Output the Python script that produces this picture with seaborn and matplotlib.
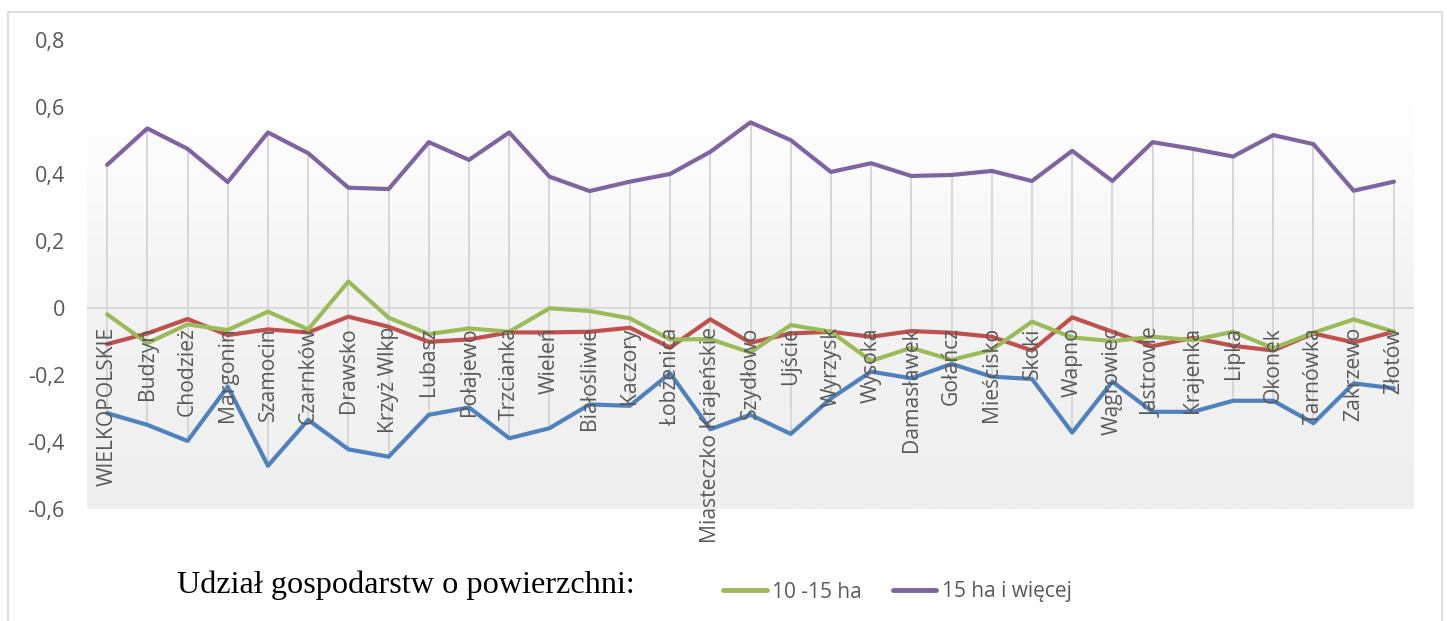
import numpy as np
import pandas as pd
import matplotlib
matplotlib.use("Agg")
import matplotlib.pyplot as plt
from matplotlib.colors import LinearSegmentedColormap
from matplotlib.lines import Line2D
from matplotlib.patches import Rectangle
import seaborn as sns

# --- data -------------------------------------------------------------------
gminy = [
    "WIELKOPOLSKIE", "Budzyń", "Chodzież", "Margonin", "Szamocin", "Czarnków",
    "Drawsko", "Krzyż Wlkp", "Lubasz", "Połajewo", "Trzcianka", "Wieleń",
    "Białośliwie", "Kaczory", "Łobżenica", "Miasteczko Krajeńskie", "Szydłowo",
    "Ujście", "Wyrzysk", "Wysoka", "Damasławek", "Gołańcz", "Mieścisko",
    "Skoki", "Wapno", "Wągrowiec", "Jastrowie", "Krajenka", "Lipka", "Okonek",
    "Tarnówka", "Zakrzewo", "Złotów",
]

do_5_ha = [-0.313, -0.348, -0.396, -0.234, -0.470, -0.333, -0.421, -0.443,
           -0.318, -0.296, -0.388, -0.358, -0.287, -0.291, -0.194, -0.361,
           -0.318, -0.375, -0.269, -0.189, -0.209, -0.166, -0.204, -0.211,
           -0.371, -0.219, -0.309, -0.309, -0.276, -0.276, -0.343, -0.224,
           -0.239]
ha_5_10 = [-0.107, -0.075, -0.032, -0.080, -0.063, -0.072, -0.025, -0.055,
           -0.100, -0.093, -0.072, -0.072, -0.070, -0.058, -0.117, -0.033,
           -0.103, -0.075, -0.070, -0.085, -0.068, -0.073, -0.085, -0.126,
           -0.027, -0.070, -0.113, -0.088, -0.112, -0.126, -0.075, -0.102,
           -0.070]
ha_10_15 = [-0.018, -0.104, -0.048, -0.065, -0.010, -0.063, 0.080, -0.028,
            -0.077, -0.060, -0.070, 0.000, -0.008, -0.030, -0.093, -0.092,
            -0.132, -0.050, -0.070, -0.157, -0.118, -0.154, -0.124, -0.040,
            -0.087, -0.098, -0.085, -0.095, -0.070, -0.119, -0.073, -0.033,
            -0.070]
ha_15_plus = [0.428, 0.537, 0.476, 0.377, 0.525, 0.463, 0.360, 0.356, 0.496,
              0.443, 0.525, 0.393, 0.350, 0.378, 0.401, 0.467, 0.555, 0.502,
              0.407, 0.433, 0.395, 0.398, 0.410, 0.380, 0.470, 0.380, 0.496,
              0.476, 0.453, 0.517, 0.490, 0.351, 0.378]

series_names = ["do 5 ha", "5 -10 ha", "10 -15 ha", "15 ha i więcej"]
series_values = [do_5_ha, ha_5_10, ha_10_15, ha_15_plus]
series_colors = ["#4F81BD", "#C0504D", "#9BBB59", "#8064A2"]
legend_series = ["10 -15 ha", "15 ha i więcej"]
legend_title = "Udział gospodarstw o powierzchni:"

y_ticks = [-0.6, -0.4, -0.2, 0.0, 0.2, 0.4, 0.6, 0.8]

# long-form table for seaborn
n = len(gminy)
df = pd.DataFrame({
    "pos": np.tile(np.arange(n), len(series_names)),
    "gmina": gminy * len(series_names),
    "seria": np.repeat(series_names, n),
    "udzial": np.concatenate(series_values),
})

# --- figure -----------------------------------------------------------------
sns.set_theme(style="white")
plt.rcParams["font.family"] = ["Open Sans", "DejaVu Sans"]

W, H = 1447, 621
fig = plt.figure(figsize=(W / 100, H / 100), dpi=100)
fig.patch.set_facecolor("white")
ax = fig.add_axes([87 / W, 1 - 509.3 / H, (1414 - 87) / W, (509.3 - 40.3) / H])
ax.set_facecolor("none")

# outer chart frame
fig.patches.append(Rectangle((8 / W, -0.05), (1442 - 8) / W, 1.05 - 12 / H,
                             transform=fig.transFigure, fill=False,
                             edgecolor="#d9d9d9", lw=1.2, zorder=0))

# soft grey plot-area fill fading to white at the top
grad = LinearSegmentedColormap.from_list("pa", ["#efefef", "#f3f3f3", "#ffffff"])
ax.imshow(np.linspace(0, 1, 256).reshape(-1, 1), cmap=grad, origin="lower",
          extent=(-0.5, n - 0.5, -0.6, 0.62), aspect="auto", zorder=0)

# high-low lines at each category
wide = df.pivot(index="pos", columns="seria", values="udzial")
ax.vlines(wide.index, wide.min(axis=1), wide.max(axis=1),
          color="#d4d4d4", lw=1.3, zorder=1)
ax.axhline(0, color="#d9d9d9", lw=1.5, zorder=1)

sns.lineplot(data=df, x="pos", y="udzial", hue="seria",
             hue_order=series_names,
             palette=dict(zip(series_names, series_colors)),
             sort=False, legend=False, lw=3, ax=ax, zorder=3)

ax.set_xlim(-0.5, n - 0.5)
ax.set_ylim(-0.6, 0.8)
ax.set_xlabel("")
ax.set_ylabel("")
for s in ax.spines.values():
    s.set_visible(False)

ax.set_yticks(y_ticks)
ax.set_yticklabels(["0" if abs(v) < 1e-9 else f"{v:.1f}".replace(".", ",")
                    for v in y_ticks])
ax.tick_params(axis="y", length=0, pad=16, labelsize=15.5, labelcolor="#595959")

# category labels hang just below the zero line
ax.set_xticks(np.arange(n))
ax.set_xticklabels([])
for i, name in enumerate(gminy):
    ax.annotate(name, xy=(i, 0), xycoords="data", xytext=(0, -13.5),
                textcoords="offset points", rotation=90, ha="center",
                va="top", fontsize=15.2, color="#595959", zorder=4)
ax.tick_params(axis="x", length=0)

# legend
handles = [Line2D([0], [0], color=series_colors[series_names.index(s)], lw=3.5)
           for s in legend_series]
fig.legend(handles, legend_series, loc="center left",
           bbox_to_anchor=(704 / W, 1 - 592 / H), ncol=2, frameon=False,
           handlelength=2.1, handletextpad=0.25, columnspacing=1.5,
           prop={"size": 15}, labelcolor="#595959")
fig.text(177 / W, 1 - 585 / H, legend_title, ha="left", va="center",
         fontsize=23.2, family=["Liberation Serif", "DejaVu Serif"],
         color="black")

fig.savefig("out.png", dpi=100, facecolor="white")
